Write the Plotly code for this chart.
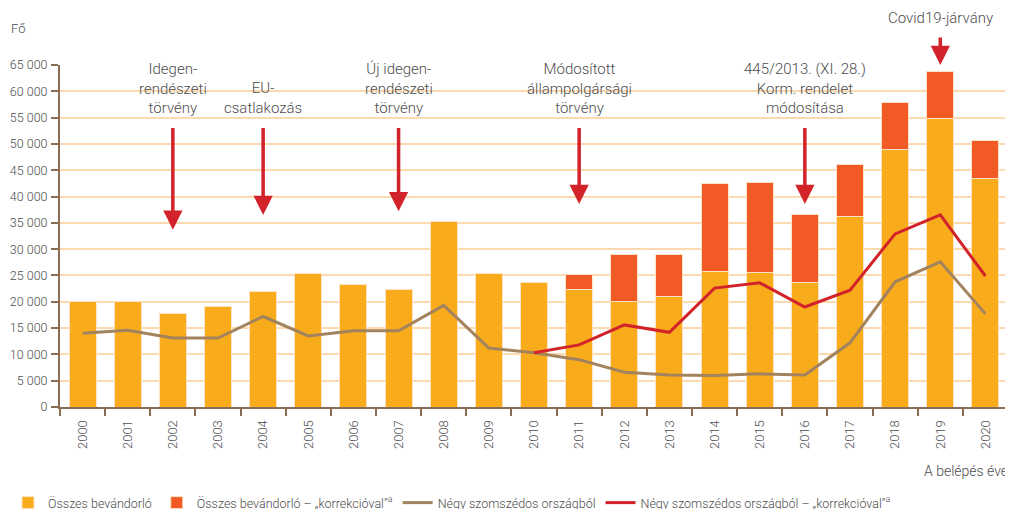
import plotly.graph_objects as go

years = [str(y) for y in range(2000, 2021)]
osszes = [20000, 20100, 17700, 19100, 21900, 25300, 23300, 22300, 35200, 25300,
          23700, 22300, 20100, 21000, 25700, 25500, 23600, 36200, 48900, 54900, 43400]
osszes_korr = [None]*11 + [25150, 29000, 29000, 42400, 42600, 36500, 46000, 57800, 63700, 50600]
negy = [14000, 14600, 13100, 13100, 17200, 13500, 14500, 14500, 19300, 11200,
        10300, 9000, 6600, 6100, 6000, 6300, 6100, 12200, 23800, 27600, 17700]
negy_korr = [None]*10 + [10300, 11800, 15600, 14200, 22600, 23600, 19000, 22200, 32900, 36500, 24900]

korr_extra = [None if k is None else k - o for k, o in zip(osszes_korr, osszes)]

events = [
    ("2002", "Idegen-<br>rendészeti<br>törvény", 33700),
    ("2004", "EU-<br>csatlakozás", 36500),
    ("2007", "Új idegen-<br>rendészeti<br>törvény", 37200),
    ("2011", "Módosított<br>állampolgársági<br>törvény", 38600),
    ("2016", "445/2013. (XI. 28.)<br>Korm. rendelet<br>módosítása", 38600),
]
covid = ("2019", "Covid19-járvány", 65000)

YELLOW = "#F9AC1B"
ORANGE = "#F15A24"
BROWN = "#A3835D"
RED = "#D2232A"
GRID = "#FCD9AE"
AXIS = "#8A6D55"
TXT = "#4D4D4D"
FONT = "Roboto, sans-serif"

# the page adds an 8px body margin, so the figure is sized to fit the window
W, H = 1005, 501
ML, MR, MT, MB = 52, 5, 57, 102
PW, PH = W - ML - MR, H - MT - MB


def px_x(x):
    return (x - ML) / PW


def px_y(y):
    return (H - MB - y) / PH


fig = go.Figure()
fig.add_bar(x=years, y=osszes, name="Összes bevándorló", marker_color=YELLOW,
            marker_line=dict(color="#FDE3C4", width=1), width=0.6)
fig.add_bar(x=years, y=korr_extra, name="Összes bevándorló – „korrekcióval”<sup>a</sup>",
            marker_color=ORANGE, marker_line=dict(color="#FDE3C4", width=1), width=0.6)
fig.add_scatter(x=years, y=negy, name="Négy szomszédos országból", mode="lines",
                line=dict(color=BROWN, width=3))
fig.add_scatter(x=years, y=negy_korr, name="Négy szomszédos országból – „korrekcióval”<sup>a</sup>",
                mode="lines", line=dict(color=RED, width=3))

annotations = []
for yr, txt, tip in events:
    i = years.index(yr)
    annotations.append(dict(x=i, y=54700, xref="x", yref="y", text=txt, showarrow=False,
                            yanchor="bottom", xanchor="center",
                            font=dict(size=15, color=TXT, family=FONT, weight=300)))
    annotations.append(dict(x=i, y=tip, xref="x", yref="y", text="", showarrow=True,
                            axref="pixel", ayref="y", ax=0, ay=53300,
                            arrowhead=2, arrowsize=1.1, arrowwidth=3.5, arrowcolor=RED,
                            standoff=0))
ci = years.index(covid[0])
annotations.append(dict(x=ci, y=covid[2], xref="x", yref="y", text="", showarrow=True,
                        axref="pixel", ayref="pixel", ax=0, ay=-29,
                        arrowhead=2, arrowsize=1.1, arrowwidth=3.5, arrowcolor=RED, standoff=0))
annotations.append(dict(x=ci, y=1.0, xref="x", yref="paper", yshift=47, text=covid[1],
                        showarrow=False, xanchor="center", yanchor="middle",
                        font=dict(size=15, color=TXT, family=FONT, weight=300)))
annotations.append(dict(xref="paper", x=px_x(1), yref="paper", y=px_y(21),
                        text="Fő", showarrow=False, xanchor="left", yanchor="middle",
                        font=dict(size=13, color=TXT, family=FONT, weight=300)))
annotations.append(dict(xref="paper", x=px_x(1002), yref="paper", y=px_y(463),
                        text="A belépés éve", showarrow=False, xanchor="right", yanchor="middle",
                        font=dict(size=14, color=TXT, family=FONT, weight=300)))

fig.update_layout(
    width=W, height=H,
    margin=dict(l=ML, r=MR, t=MT, b=MB),
    paper_bgcolor="white", plot_bgcolor="white",
    barmode="stack",
    separators=", ",
    font=dict(family=FONT, color=TXT, size=13, weight=300),
    showlegend=True,
    legend=dict(orientation="h", xref="container", yref="container", x=-12 / W, y=6 / H,
                xanchor="left", yanchor="middle", font=dict(size=12.5, color=TXT, weight=300),
                itemwidth=30, traceorder="normal"),
    annotations=annotations,
    shapes=[dict(type="line", xref="paper", yref="y", x0=1, x1=1, y0=0, y1=65000,
                 line=dict(color=GRID, width=1.5), layer="below")],
)
fig.update_xaxes(type="category", tickson="boundaries", ticks="outside", ticklen=7,
                 tickcolor=AXIS, tickwidth=1.5, showline=True, linecolor=AXIS, linewidth=2,
                 tickangle=-90, showgrid=False, automargin=False, ticklabelstandoff=6,
                 tickfont=dict(size=13, color=TXT, weight=300))
fig.update_yaxes(range=[0, 65000], dtick=5000, tickformat=",d", ticks="outside", ticklen=7,
                 tickcolor=AXIS, tickwidth=1.5, showline=True, linecolor=AXIS, linewidth=2,
                 gridcolor=GRID, gridwidth=1.5, zeroline=False, automargin=False,
                 ticklabelstandoff=1, tickfont=dict(size=12.5, color=TXT, weight=300))

fig.write_html("out.html")
